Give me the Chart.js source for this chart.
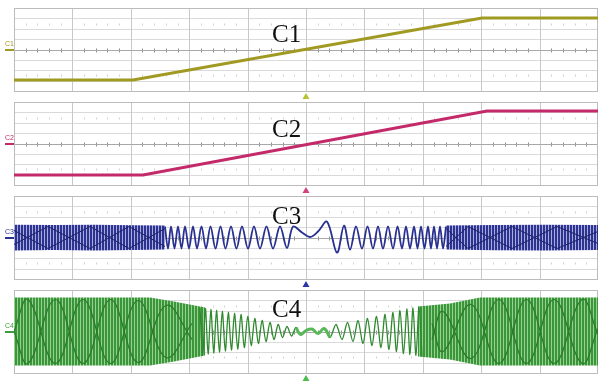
<!DOCTYPE html>
<html>
<head>
<meta charset="utf-8">
<script src="https://cdn.jsdelivr.net/npm/chart.js@4.4.1/dist/chart.umd.min.js"></script>
<style>
  html, body { margin: 0; padding: 0; background: #fff; }
  body { width: 599px; height: 381px; position: relative; overflow: hidden; }
  canvas { position: absolute; left: 0; }
  .title { position: absolute; font-family: "Liberation Serif", "DejaVu Serif", serif; font-size: 25px; line-height: 25px; color: #111; }
  .tag { position: absolute; font-family: "Liberation Sans", Arial, sans-serif; font-size: 7px; line-height: 7px; }
  .mark { position: absolute; left: 5px; width: 9px; height: 2px; }
</style>
</head>
<body>
<canvas id="p1" width="599" height="96"></canvas>
<canvas id="p2" width="599" height="96"></canvas>
<canvas id="p3" width="599" height="96"></canvas>
<canvas id="p4" width="599" height="96"></canvas>

<script>
// time axis in samples (0..584, 10 divisions), level in counts (+-41.5, 8 divisions)
const xDiv = 58.4;
const yDiv = 10.375;
const trigX = 292;

// C1 ramp
const c1X = [0, 119, 468, 584];
const c1Y = [-30.5, -30.5, 31.5, 31.5];

// C2 ramp
const c2X = [0, 129, 473, 584];
const c2Y = [-31.5, -31.5, 32.5, 32.5];

// C3 dense parts (envelope) + beat pattern
const c3BandLX = [0, 40, 80, 120, 151];
const c3BandLUp = [12.8, 12.5, 12.8, 12.3, 12];
const c3BandLLo = [-13, -12.6, -13, -12.6, -12];
const c3BandRX = [432, 480, 530, 584];
const c3BandRUp = [12, 12.6, 12.8, 12.5];
const c3BandRLo = [-12, -12.8, -13, -12.6];
const c3BeatLX = [0, 34, 76, 115, 151];
const c3BeatLA = [-7, 11, -11, 11, -9];
const c3BeatLB = [7, -11, 11, -11, 9];
const c3BeatRX = [432, 454, 498, 543, 584];
const c3BeatRA = [-9, 11, -11, 11, -6];
const c3BeatRB = [9, -11, 11, -11, 6];

// C3 resolved chirp around the trigger
const c3ChirpX = [151, 154, 157, 160.5, 164, 167.5, 171, 175, 179, 183,
  187.5, 192, 196.5, 201.5, 206.5, 211.5, 217, 222.5, 228, 234,
  240, 246, 252.5, 259, 266, 273, 279, 288, 296, 304,
  313, 323, 330, 336, 342, 348, 353.5, 359, 364, 369,
  374, 379, 383.5, 388, 392, 396, 400, 403.5, 407, 410.5,
  414, 417, 420, 423, 426, 429, 432];
const c3ChirpY = [11, -11, 11, -11, 11, -11, 11, -11, 11, -11,
  11, -11, 11, -11, 11, -11, 11, -11, 11, -11,
  11, -11, 11, -11, 11, -10.5, 10.8, 5, 0.5, 6,
  15.8, -15.2, 11.8, -12.2, 11, -11, 11, -11, 11, -11,
  11, -11, 11, -11, 11, -11, 11, -11, 11, -11,
  11, -11, 11, -11, 11, -11, 11];

// C4 dense parts (envelope) + beat lobes
const c4BandLX = [0, 136, 160, 191];
const c4BandLUp = [34, 34, 30, 24];
const c4BandLLo = [-34, -34, -30, -24];
const c4BandRX = [404, 436, 466, 584];
const c4BandRUp = [25, 28, 34, 34];
const c4BandRLo = [-25, -28, -34, -34];
const c4LobeLX = [0, 14, 41.5, 69, 96.5, 124, 152, 178];
const c4LobeLA = [0, 32, -32, 32, -32, 31, -26, 8];
const c4LobeLB = [0, -32, 32, -32, 32, -31, 26, -8];
const c4LobeRX = [418, 429, 457, 485, 512.5, 540, 568, 584];
const c4LobeRA = [-8, 20, -27, 32, -32, 32, -32, 3];
const c4LobeRB = [8, -20, 27, -32, 32, -32, 32, -3];

// C4 resolved chirp around the trigger
const c4ChirpX = [186, 188.7, 191.4, 194.1, 196.9, 199.7, 202.5, 205.4, 208.3, 211.3,
  214.3, 217.4, 220.5, 223.7, 227, 230.3, 233.7, 237.2, 240.8, 244.4,
  248.1, 252, 256, 260, 264.2, 268.5, 273, 277.5, 282, 286.5,
  292, 298, 304, 310, 316, 322, 328, 333.5, 339, 344,
  349, 353.5, 358, 362.5, 367, 371, 375, 379, 382.5, 386,
  389.5, 393, 396, 399, 402, 405, 408];
const c4ChirpY = [24, -23.5, 23, -22.5, 22, -21.5, 21, -20.5, 20, -19.5,
  19, -18.5, 18, -17.5, 17, -16, 15, -14, 13, -12,
  11, -10, 9, -8, 7, -6, 5, -4.5, 4, -3,
  1, 2.5, -2, 3, -6, 7, -8, 9, -10, 11,
  -12, 13, -14, 15, -16, 17, -18, 19, -20, 21,
  -22, 22.5, -23, 23.5, -24, 24.5, -25];
const c4HumpX = [282, 286.5, 292, 298, 304, 310, 316];
const c4HumpY = [4, -3, 1, 2.5, -2, 3, -6];

const colors = { c1: '#a09a22', c2: '#c42a6a', c3: '#283090', c4: '#3c9c3c' };
const triColors = { c1: '#b9c234', c2: '#d2407e', c3: '#2a36a8', c4: '#4cbc4c' };

function pts(xs, ys) {
  return xs.map((x, i) => ({ x: x, y: ys[i] }));
}

function stripes(dark, light) {
  const c = document.createElement('canvas');
  c.width = 3; c.height = 1;
  const g = c.getContext('2d');
  g.fillStyle = light; g.fillRect(0, 0, 3, 1);
  g.fillStyle = dark; g.fillRect(0, 0, 2, 1);
  return g.createPattern(c, 'repeat');
}

function line(xs, ys, color, width, tension) {
  return { data: pts(xs, ys), borderColor: color, borderWidth: width, tension: tension || 0, fill: false };
}

function band(xs, up, lo, fillStyle) {
  return [
    { data: pts(xs, up), borderWidth: 0, borderColor: 'rgba(0,0,0,0)', backgroundColor: fillStyle, fill: '+1' },
    { data: pts(xs, lo), borderWidth: 0, borderColor: 'rgba(0,0,0,0)', fill: false }
  ];
}

// graticule + trigger marker
const scopeGrid = {
  id: 'scopeGrid',
  beforeDatasetsDraw(chart) {
    const { ctx, chartArea: a } = chart;
    const xs = chart.scales.x, ys = chart.scales.y;
    ctx.save();
    ctx.lineWidth = 1;
    ctx.strokeStyle = '#dadada';
    for (let i = 1; i < 8; i++) {
      const y = Math.round(ys.getPixelForValue(-41.5 + i * yDiv)) + 0.5;
      ctx.beginPath(); ctx.moveTo(a.left, y); ctx.lineTo(a.right, y); ctx.stroke();
    }
    ctx.strokeStyle = '#c8c8c8';
    for (let i = 1; i < 10; i++) {
      const x = Math.round(xs.getPixelForValue(i * xDiv)) + 0.5;
      ctx.beginPath(); ctx.moveTo(x, a.top); ctx.lineTo(x, a.bottom); ctx.stroke();
    }
    // minor ticks on centre row and two dotted rows
    const rows = [[0, '#8e8e8e', 2], [2.5 * yDiv, '#d0d0d0', 1], [-2.5 * yDiv, '#d0d0d0', 1]];
    rows.forEach(([v, col, h]) => {
      const y = Math.round(ys.getPixelForValue(v)) + 0.5;
      ctx.strokeStyle = col;
      for (let i = 0; i < 50; i++) {
        if (i % 5 === 0) continue;
        const x = Math.round(xs.getPixelForValue(i * xDiv / 5)) + 0.5;
        ctx.beginPath(); ctx.moveTo(x, y - h); ctx.lineTo(x, y + h); ctx.stroke();
      }
    });
    ctx.strokeStyle = '#a8a8a8';
    const y0 = Math.round(ys.getPixelForValue(0)) + 0.5;
    ctx.beginPath(); ctx.moveTo(a.left, y0); ctx.lineTo(a.right, y0); ctx.stroke();
    ctx.strokeStyle = '#bcbcbc';
    ctx.strokeRect(Math.round(a.left) + 0.5, Math.round(a.top) + 0.5, Math.round(a.right - a.left) - 1, Math.round(a.bottom - a.top));
    ctx.restore();
  },
  afterDraw(chart, args, opts) {
    const { ctx, chartArea: a } = chart;
    const x = chart.scales.x.getPixelForValue(trigX);
    ctx.save();
    ctx.fillStyle = opts.color;
    ctx.beginPath();
    ctx.moveTo(x, a.bottom + 2);
    ctx.lineTo(x + 3.5, a.bottom + 8);
    ctx.lineTo(x - 3.5, a.bottom + 8);
    ctx.closePath();
    ctx.fill();
    ctx.restore();
  }
};

function makePanel(id, top, datasets, triColor) {
  const cv = document.getElementById(id);
  cv.style.top = (top - 4) + 'px';
  return new Chart(cv.getContext('2d'), {
    type: 'line',
    data: { datasets: datasets },
    options: {
      responsive: false,
      animation: false,
      events: [],
      devicePixelRatio: 1,
      layout: { padding: { left: 14, right: 1, top: 4, bottom: 9 } },
      elements: { point: { radius: 0 } },
      plugins: { legend: { display: false }, tooltip: { enabled: false }, scopeGrid: { color: triColor } },
      scales: {
        x: { type: 'linear', display: false, min: 0, max: 584 },
        y: { display: false, min: -41.5, max: 41.5 }
      }
    },
    plugins: [scopeGrid]
  });
}

const tops = [8, 102, 196, 290];

makePanel('p1', tops[0], [line(c1X, c1Y, colors.c1, 3)], triColors.c1);
makePanel('p2', tops[1], [line(c2X, c2Y, colors.c2, 3)], triColors.c2);

const c3Stripe = stripes('#2d3391', '#a7aadb');
makePanel('p3', tops[2], [
  line(c3ChirpX, c3ChirpY, colors.c3, 1.8, 0.35),
  line(c3BeatLX, c3BeatLA, '#1c2168', 1),
  line(c3BeatLX, c3BeatLB, '#1c2168', 1),
  line(c3BeatRX, c3BeatRA, '#1c2168', 1),
  line(c3BeatRX, c3BeatRB, '#1c2168', 1),
  ...band(c3BandLX, c3BandLUp, c3BandLLo, c3Stripe),
  ...band(c3BandRX, c3BandRUp, c3BandRLo, c3Stripe)
], triColors.c3);

const c4Stripe = stripes('#399639', '#98cf93');
makePanel('p4', tops[3], [
  line(c4HumpX, c4HumpY, '#58b858', 3, 0.4),
  line(c4ChirpX, c4ChirpY, '#2f8a2f', 1.3, 0.3),
  line(c4LobeLX, c4LobeLA, '#2a7a2a', 1.2, 0.4),
  line(c4LobeLX, c4LobeLB, '#2a7a2a', 1.2, 0.4),
  line(c4LobeRX, c4LobeRA, '#2a7a2a', 1.2, 0.4),
  line(c4LobeRX, c4LobeRB, '#2a7a2a', 1.2, 0.4),
  ...band(c4BandLX, c4BandLUp, c4BandLLo, c4Stripe),
  ...band(c4BandRX, c4BandRUp, c4BandRLo, c4Stripe)
], triColors.c4);

// titles and channel tags
const names = ['C1', 'C2', 'C3', 'C4'];
const titleTops = [20.5, 115.5, 202.5, 296];
const tagCols = [colors.c1, colors.c2, colors.c3, colors.c4];
names.forEach((n, i) => {
  const t = document.createElement('div');
  t.className = 'title';
  t.textContent = n;
  t.style.left = '272px';
  t.style.top = titleTops[i] + 'px';
  document.body.appendChild(t);

  const mid = tops[i] + 41.5;
  const g = document.createElement('div');
  g.className = 'tag';
  g.textContent = n;
  g.style.color = tagCols[i];
  g.style.left = '5px';
  g.style.top = (mid - 10) + 'px';
  document.body.appendChild(g);

  const m = document.createElement('div');
  m.className = 'mark';
  m.style.background = tagCols[i];
  m.style.top = (mid - 1) + 'px';
  document.body.appendChild(m);
});
</script>
</body>
</html>
